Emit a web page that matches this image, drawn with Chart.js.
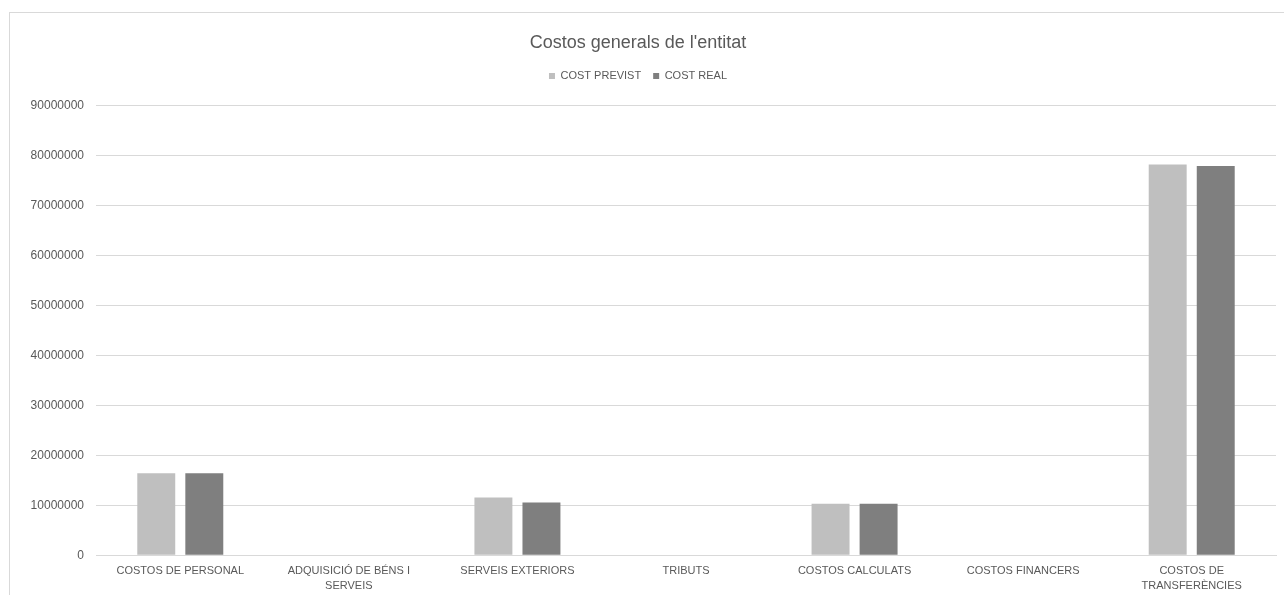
<!DOCTYPE html>
<html><head><meta charset="utf-8">
<script src="https://cdn.jsdelivr.net/npm/chart.js@4/dist/chart.umd.min.js"></script>
<style>
html,body{margin:0;padding:0;background:#fff;overflow:hidden;}
#frame{position:absolute;left:9px;top:12px;width:1290px;height:600px;border:1px solid #d9d9d9;}
#wrap{position:absolute;left:0;top:0;width:1284px;height:601px;}
</style></head>
<body>
<div id="frame"></div>
<div id="wrap"><canvas id="c" width="1284" height="601"></canvas></div>
<script>
const categories = [
  "COSTOS DE PERSONAL",
  ["ADQUISICIÓ DE BÉNS I", "SERVEIS"],
  "SERVEIS EXTERIORS",
  "TRIBUTS",
  "COSTOS CALCULATS",
  "COSTOS FINANCERS",
  ["COSTOS DE", "TRANSFERÈNCIES"]
];
const costPrevist = [16400000, 0, 11550000, 0, 10300000, 0, 78200000];
const costReal    = [16400000, 0, 10550000, 0, 10300000, 0, 77900000];
const seriesNames = ["COST PREVIST", "COST REAL"];
const yMin = 0, yMax = 90000000, yStep = 10000000;

Chart.defaults.font.family = "Arial, 'Liberation Sans', sans-serif";
Chart.defaults.color = "#595959";

const legendPad = {
  id: 'legendPad',
  beforeInit(chart) {
    const lg = chart.legend;
    const fit = lg.fit;
    lg.fit = function () { fit.call(this); this.height += 14; };
  }
};

new Chart(document.getElementById('c'), {
  type: 'bar',
  data: {
    labels: categories,
    datasets: [
      {label: seriesNames[0], data: costPrevist, backgroundColor: '#bfbfbf', borderWidth: 0},
      {label: seriesNames[1], data: costReal, backgroundColor: '#7f7f7f', borderWidth: 0}
    ]
  },
  plugins: [legendPad],
  options: {
    responsive: false,
    animation: false,
    layout: {padding: {left: 0, right: 8, top: 32, bottom: 0}},
    datasets: {bar: {categoryPercentage: 0.57, barPercentage: 0.79}},
    plugins: {
      title: {display: true, text: "Costos generals de l'entitat", color: '#595959',
        font: {size: 18, weight: 'normal'}, padding: {top: 0, bottom: 5}},
      legend: {position: 'top',
        labels: {boxWidth: 6, boxHeight: 6, font: {size: 11}, color: '#595959', padding: 12}},
      tooltip: {enabled: false}
    },
    scales: {
      x: {
        grid: {display: false, drawTicks: false},
        border: {color: '#d9d9d9'},
        ticks: {font: {size: 11, lineHeight: 1.35}, color: '#595959', maxRotation: 0, autoSkip: false, padding: 8}
      },
      y: {
        min: yMin, max: yMax,
        afterFit: s => { s.width = 96; },
        grid: {color: '#d9d9d9', drawTicks: false},
        border: {display: false},
        ticks: {stepSize: yStep, font: {size: 12}, color: '#595959', padding: 12,
          callback: v => String(v)}
      }
    }
  }
});
</script>
</body></html>
